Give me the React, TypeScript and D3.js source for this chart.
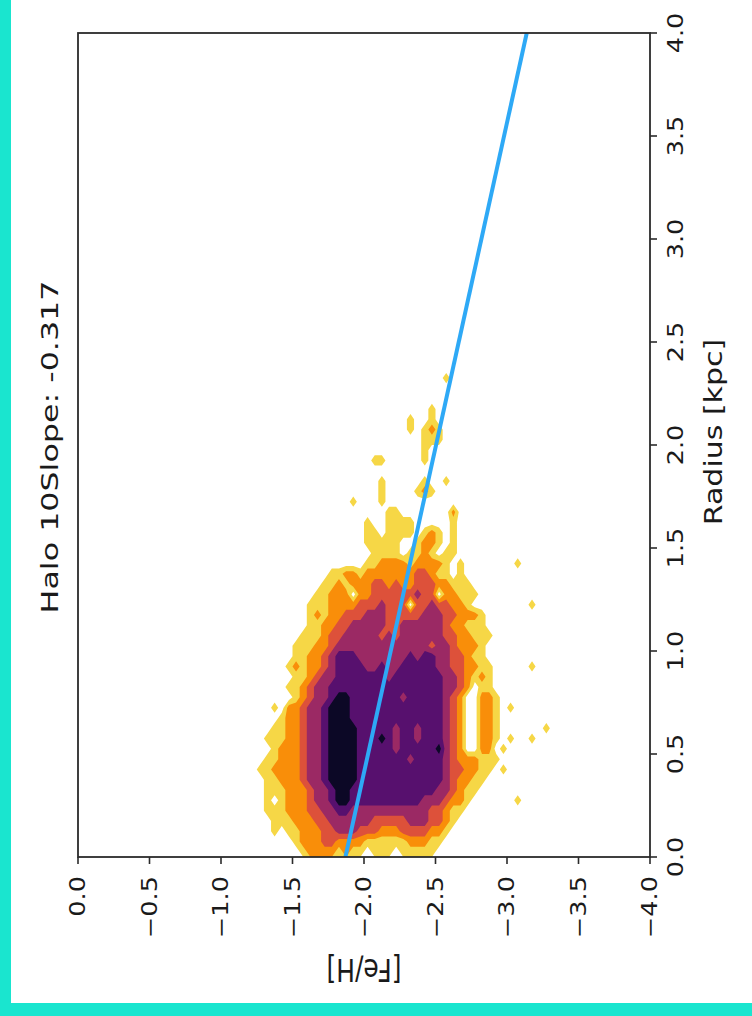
import React, { useMemo } from "react";
import * as d3 from "d3";

const WIDTH = 752;
const HEIGHT = 1016;

// Axis ticks
const feHTicks = [0, -0.5, -1, -1.5, -2, -2.5, -3, -3.5, -4];
const radiusTicks = [0, 0.5, 1, 1.5, 2, 2.5, 3, 3.5, 4];

// Linear fit of [Fe/H] against radius
const fitSlope = -0.317;
const fitIntercept = -1.87;
const titleText = "Halo 10Slope: -0.317";
const feHLabel = "[Fe/H]";
const radiusLabel = "Radius [kpc]";

// Binned star density (level 0 = empty, 1..6 = contour bands).
// Rows run from Radius 2.4 (top) down to 0; columns from [Fe/H] -1.2 to -3.4, 0.05 per bin.
const gridFeHStart = -1.2;
const gridRTop = 2.4;
const gridStep = 0.05;
const densityRows = [
  "0000000000 0000000000 0000000000 0000000000 0000",
  "0000000000 0000000000 0000000100 0000000000 0000",
  "0000000000 0000000000 0000000000 0000000000 0000",
  "0000000000 0000000000 0000000000 0000000000 0000",
  "0000000000 0000000000 0000010000 0000000000 0000",
  "0000000000 0000000000 0010010000 0000000000 0000",
  "0000000000 0000000000 0010121000 0000000000 0000",
  "0000000000 0000000000 0000111000 0000000000 0000",
  "0000000000 0000000000 0000100000 0000000000 0000",
  "0000000000 0000000110 0000100000 0000000000 0000",
  "0000000000 0000000000 0000000000 0000000000 0000",
  "0000000000 0000000010 0000100100 0000000000 0000",
  "0000000000 0000000010 0001210000 0000000000 0000",
  "0000000000 0000100010 0000000000 0000000000 0000",
  "0000000000 0000000001 1000000020 0000000000 0000",
  "0000000000 0000001001 1110000010 0000000000 0000",
  "0000000000 0000001101 1110121010 0000000000 0000",
  "0000000000 0000001111 1001221010 0000000000 0000",
  "0000000000 0000000111 1011210110 0000000000 0000",
  "0000000000 0000001122 2212222101 0000000100 0000",
  "0000000000 0112212222 2223321101 0000000000 0000",
  "0000000000 1121222332 3223332211 1000000000 0000",
  "0000000001 1222022333 3334330221 1100000000 0000",
  "0000000011 1222233343 3303343322 1000000001 0000",
  "0000000012 1223334443 3333444332 2210000000 0000",
  "0000000011 2233444443 3444444322 1110000000 0000",
  "0000000111 2334444434 3444444332 2111000000 0000",
  "0000001112 2344444444 4444434432 2210000000 0000",
  "0000001122 3455544444 4454554433 2110000000 0000",
  "0000012122 3455554454 4555554433 2211000001 0000",
  "0000001123 4455555554 5555555443 2121000000 0000",
  "0000011234 4555555555 5555555443 2011000000 0000",
  "0000001234 4566555555 5455555432 0022100000 0000",
  "0001022344 5666555555 5555555432 0022101000 0000",
  "0000122344 5666555555 5555555432 0022100000 0000",
  "0001122344 5666655555 4554555432 0022100000 0100",
  "0011122344 5666655565 4554555432 0022101001 0000",
  "0001222344 5666655555 4555556432 0022010000 0000",
  "0011222344 5666655555 5545555432 2211100000 0000",
  "0112222344 5666655555 5555555433 2211010000 0000",
  "0011222344 5666655555 5555555432 2110000000 0000",
  "0011122234 4566555555 5555554432 1100000000 0000",
  "0010122234 4566555555 5555444322 1000000100 0000",
  "0011122233 4455444444 4444433211 0000000000 0000",
  "0001112223 3444444333 3344433210 0000000000 0000",
  "0001011222 3344433322 2333322100 0000000000 0000",
  "0000001222 3322221111 1122211000 0000000000 0000",
  "0000000122 2212110111 0111110000 0000000000 0000",
];
const bandThresholds = [0.5, 1.5, 2.5, 3.5, 4.5, 5.5];
// Position of each band's fill along the inferno colormap (light outer band to dark core)
const bandColorPositions = [0.9, 0.75, 0.6, 0.42, 0.25, 0.07];

// Layout
const plotLeft = 78;
const plotRight = 650;
const plotTop = 33;
const plotBottom = 857;
const stretch = 1.25; // vertical stretch of all lettering
const font = "DejaVu Sans";
const ink = "#1a1a1a";

export default function App() {
  const x = d3.scaleLinear().domain([0, -4]).range([plotLeft, plotRight]);
  const y = d3.scaleLinear().domain([0, 4]).range([plotBottom, plotTop]);

  const bands = useMemo(() => {
    const grid = densityRows.map((r) => r.replace(/\s/g, "").split("").map(Number));
    const nRows = grid.length;
    const nCols = grid[0].length;
    const values = grid.flat();
    return d3.contours().size([nCols, nRows]).thresholds(bandThresholds)(values);
  }, []);

  const path = useMemo(() => {
    const proj = d3.geoTransform({
      point(gx: number, gy: number) {
        (this as any).stream.point(
          x(gridFeHStart - gridStep * gx),
          y(gridRTop - gridStep * gy)
        );
      },
    });
    return d3.geoPath(proj);
  }, []);

  const bandColor = (i: number) => d3.interpolateInferno(bandColorPositions[i]);

  const fitLine = d3
    .line<number>()
    .x((r) => x(fitIntercept + fitSlope * r))
    .y((r) => y(r));

  const fmt = d3.format(".1f");

  return (
    <svg
      width={WIDTH}
      height={HEIGHT}
      style={{ position: "absolute", left: 0, top: 0, background: "#fff" }}
      fontFamily={font}
    >
      <rect x={0} y={0} width={WIDTH} height={HEIGHT} fill="#fff" />
      <defs>
        <clipPath id="plot-clip">
          <rect x={plotLeft} y={plotTop} width={plotRight - plotLeft} height={plotBottom - plotTop} />
        </clipPath>
      </defs>

      <g clipPath="url(#plot-clip)">
        {bands.map((b, i) => (
          <path key={i} d={path(b as any) || ""} fill={bandColor(i)} stroke="none" />
        ))}
        <path d={fitLine([0, 4]) || ""} fill="none" stroke="#2ea9f6" strokeWidth={4} />
      </g>

      <rect
        x={plotLeft}
        y={plotTop}
        width={plotRight - plotLeft}
        height={plotBottom - plotTop}
        fill="none"
        stroke="#2b2b2b"
        strokeWidth={1.8}
      />

      {/* [Fe/H] axis along the bottom */}
      {feHTicks.map((t) => (
        <g key={"f" + t}>
          <line x1={x(t)} x2={x(t)} y1={plotBottom} y2={plotBottom + 7} stroke="#2b2b2b" strokeWidth={1.6} />
          <text
            transform={`translate(${x(t)},${plotBottom + 19}) scale(1,${stretch}) rotate(-90)`}
            textAnchor="end"
            dy="0.36em"
            fontSize={20.5}
            fill={ink}
          >
            {fmt(t)}
          </text>
        </g>
      ))}
      <text
        transform={`translate(${(plotLeft + plotRight) / 2},959) scale(1,${stretch}) rotate(180)`}
        textAnchor="middle"
        fontSize={25}
        fill={ink}
      >
        {feHLabel}
      </text>

      {/* Radius axis along the right */}
      {radiusTicks.map((t) => (
        <g key={"r" + t}>
          <line x1={plotRight} x2={plotRight + 7} y1={y(t)} y2={y(t)} stroke="#2b2b2b" strokeWidth={1.6} />
          <text
            transform={`translate(683,${y(t)}) scale(1,${stretch}) rotate(-90)`}
            textAnchor="middle"
            fontSize={20.5}
            fill={ink}
          >
            {fmt(t)}
          </text>
        </g>
      ))}
      <text
        transform={`translate(722,432) scale(1,${stretch}) rotate(-90)`}
        textAnchor="middle"
        fontSize={24}
        fill={ink}
      >
        {radiusLabel}
      </text>

      {/* Title on the left */}
      <text
        transform={`translate(57.5,447) scale(1,1.35) rotate(-90)`}
        textAnchor="middle"
        fontSize={23.5}
        fill={ink}
      >
        {titleText}
      </text>

      {/* Frame */}
      <rect x={0} y={0} width={11} height={HEIGHT} fill="#1ae5cf" />
      <rect x={0} y={1003} width={WIDTH} height={HEIGHT - 1003} fill="#1ae5cf" />
    </svg>
  );
}
